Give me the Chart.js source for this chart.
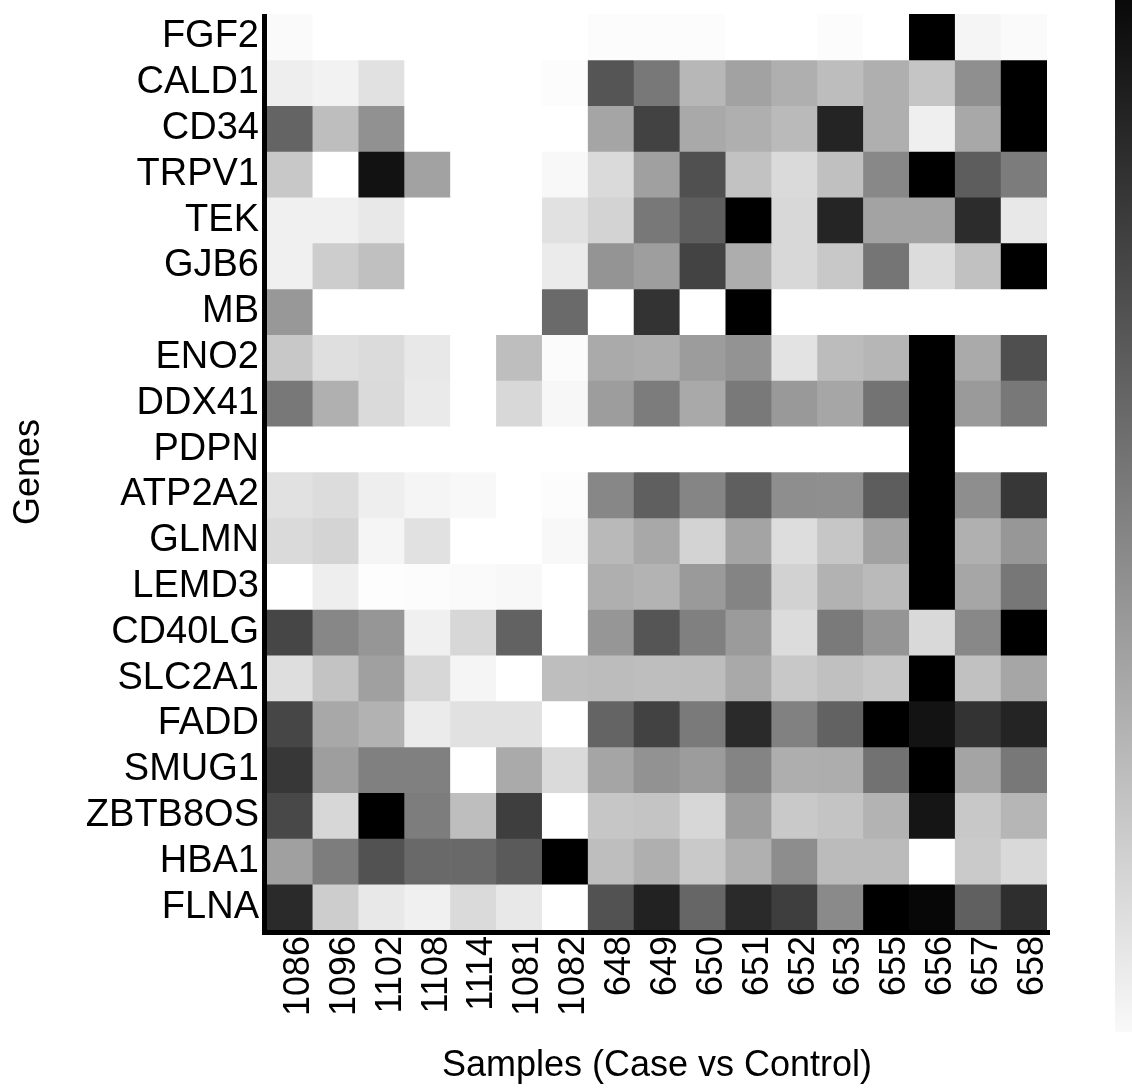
<!DOCTYPE html>
<html>
<head>
<meta charset="utf-8">
<script src="https://cdn.jsdelivr.net/npm/chart.js@4.4.1/dist/chart.umd.min.js"></script>
<style>
html,body{margin:0;padding:0;background:#fff;}
#wrap{position:relative;width:1132px;height:1088px;}
</style>
</head>
<body>
<div id="wrap"><canvas id="heat"></canvas></div>
<script>
var samples=['1086','1096','1102','1108','1114','1081','1082','648','649','650','651','652','653','655','656','657','658'];
var genes=['FGF2','CALD1','CD34','TRPV1','TEK','GJB6','MB','ENO2','DDX41','PDPN','ATP2A2','GLMN','LEMD3','CD40LG','SLC2A1','FADD','SMUG1','ZBTB8OS','HBA1','FLNA'];

// scaled level per sample, 0 = lowest (white) .. 255 = highest (black)
var fgf2   =[5,0,0,0,0,0,0,3,3,3,0,0,3,0,255,10,5];
var cald1  =[17,13,30,0,0,0,3,170,135,72,93,80,66,80,58,112,255];
var cd34   =[155,65,110,0,0,0,0,90,189,86,80,69,219,80,16,87,255];
var trpv1  =[55,0,237,93,0,0,7,37,95,175,61,37,63,119,255,162,131];
var tek    =[15,15,23,0,0,0,30,44,135,161,255,39,218,92,92,211,23];
var gjb6   =[15,50,63,0,0,0,20,107,97,188,82,39,55,138,35,62,255];
var mb     =[103,0,0,0,0,0,149,0,204,0,255,0,0,0,0,0,0];
var eno2   =[55,32,36,23,0,65,4,85,82,99,108,28,67,73,255,85,176];
var ddx41  =[135,79,37,21,0,39,8,98,131,86,134,102,89,140,255,101,135];
var pdpn   =[0,0,0,0,0,0,0,0,0,0,0,0,0,0,255,0,0];
var atp2a2 =[30,35,17,10,7,0,3,120,160,122,160,113,112,162,255,113,200];
var glmn   =[37,43,10,30,0,0,7,70,87,44,91,34,57,93,255,79,104];
var lemd3  =[0,17,2,3,5,7,0,80,76,101,123,45,77,69,255,89,136];
var cd40lg =[185,120,105,15,40,157,0,105,170,127,100,35,133,106,38,119,255];
var slc2a1 =[33,60,95,40,10,0,65,67,65,66,86,55,63,57,255,62,89];
var fadd   =[185,87,77,20,30,30,0,155,189,133,213,126,157,255,236,204,219];
var smug1  =[200,97,127,127,0,85,37,90,109,99,123,81,82,141,255,91,135];
var zbtb8os=[183,40,255,130,65,193,0,57,59,40,97,54,59,76,234,55,73];
var hba1   =[95,130,173,150,150,165,255,65,80,54,79,114,68,68,0,53,38];
var flna   =[213,50,23,15,37,23,0,173,221,153,213,193,117,255,248,159,209];

var rows=[fgf2,cald1,cd34,trpv1,tek,gjb6,mb,eno2,ddx41,pdpn,atp2a2,glmn,lemd3,cd40lg,slc2a1,fadd,smug1,zbtb8os,hba1,flna];

function grey(v){
    var g=Math.round(255-v);
    return 'rgb('+g+','+g+','+g+')';
}

// one floating-bar dataset per gene row
var datasets=genes.map(function(g,i){
    return {
        label:g,
        data:samples.map(function(){return [i-0.5,i+0.5];}),
        backgroundColor:rows[i].map(grey),
        borderWidth:0,
        barPercentage:1,
        categoryPercentage:1,
        grouped:false
    };
});

var axisLines={
    id:'axisLines',
    afterDatasetsDraw:function(chart){
        var a=chart.chartArea,ctx=chart.ctx;
        ctx.save();
        ctx.fillStyle='#000';
        ctx.fillRect(a.left-5,a.top,5,a.bottom-a.top+5);
        ctx.fillRect(a.left-5,a.bottom,a.right-a.left+8,5);
        ctx.restore();
    }
};

var colorBar={
    id:'colorBar',
    afterDraw:function(chart){
        var ctx=chart.ctx;
        var top=0,bottom=1032;
        var grad=ctx.createLinearGradient(0,top,0,bottom);
        grad.addColorStop(0,grey(246));
        grad.addColorStop(1,grey(6));
        ctx.save();
        ctx.fillStyle=grad;
        ctx.fillRect(1115,top,20,bottom-top);
        ctx.restore();
    }
};

Chart.defaults.font.family='"Liberation Sans", Arial, Helvetica, sans-serif';
Chart.defaults.color='#000';

new Chart(document.getElementById('heat').getContext('2d'),{
    type:'bar',
    data:{labels:samples,datasets:datasets},
    options:{
        responsive:true,
        maintainAspectRatio:false,
        animation:false,
        layout:{padding:{top:14,right:85,bottom:0,left:0}},
        plugins:{legend:{display:false},tooltip:{enabled:false}},
        scales:{
            x:{
                type:'category',
                grid:{display:false,drawTicks:false},
                border:{display:false},
                ticks:{autoSkip:false,maxRotation:90,minRotation:90,padding:6,labelOffset:9,font:{size:36}},
                title:{display:true,text:'Samples (Case vs Control)',font:{size:36},padding:{top:0,bottom:0}},
                afterFit:function(s){s.height=158;s.paddingLeft=0;s.paddingRight=0;}
            },
            y:{
                type:'linear',
                min:-0.5,
                max:19.5,
                reverse:true,
                grid:{display:false,drawTicks:false},
                border:{display:false},
                afterBuildTicks:function(s){s.ticks=genes.map(function(g,i){return {value:i};});},
                ticks:{autoSkip:false,padding:8,font:{size:38},callback:function(v){return genes[v];}},
                title:{display:true,text:'Genes',font:{size:36},padding:{top:7,bottom:0}},
                afterFit:function(s){s.width=267;s.paddingTop=0;s.paddingBottom=0;}
            }
        }
    },
    plugins:[axisLines,colorBar]
});
</script>
</body>
</html>
